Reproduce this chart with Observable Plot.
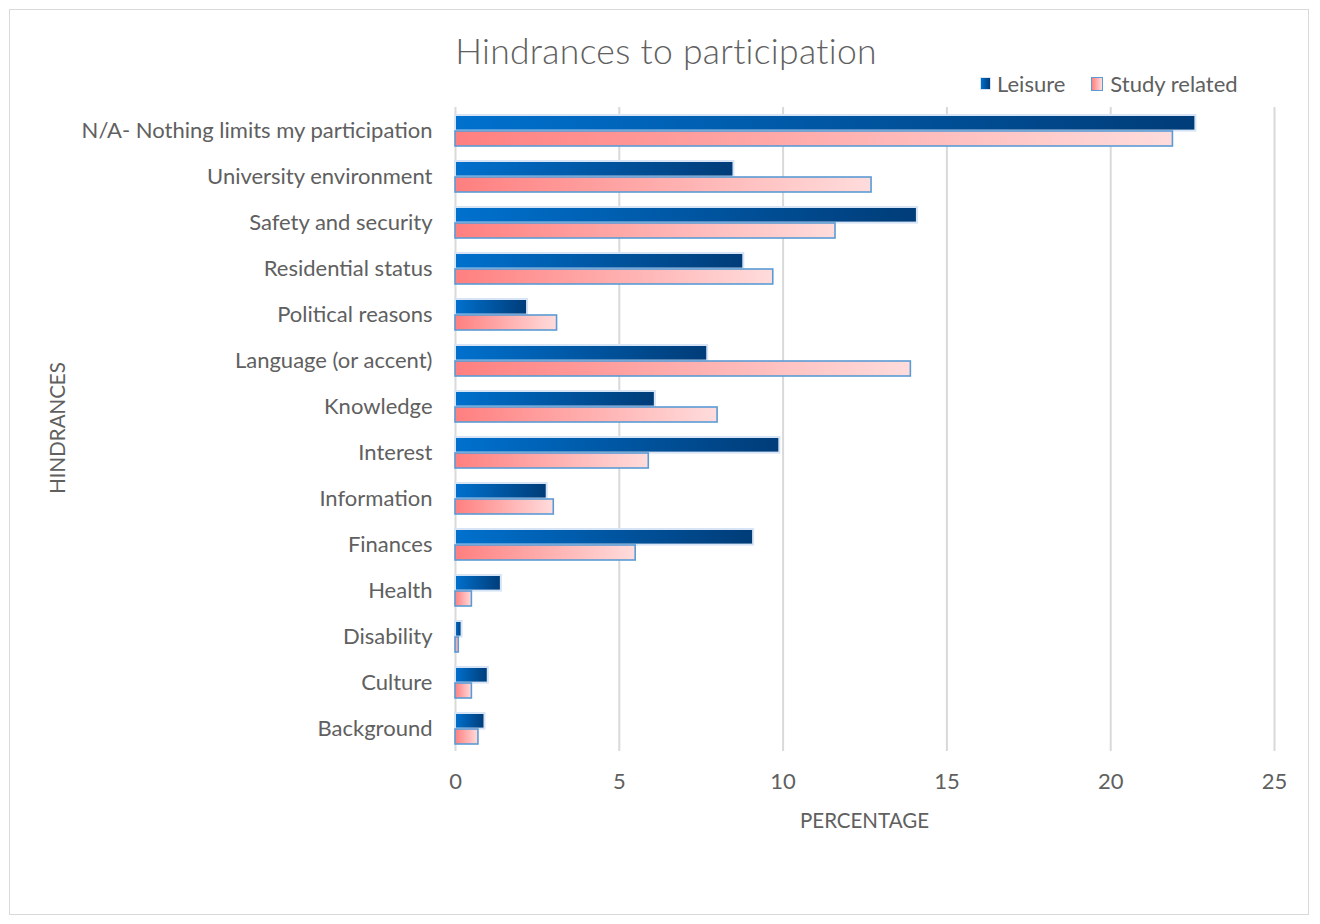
<!DOCTYPE html>
<html>
<head>
<meta charset="utf-8">
<script src="https://cdn.jsdelivr.net/npm/d3@7"></script>
<script src="https://cdn.jsdelivr.net/npm/@observablehq/plot@0.6"></script>
<style>
  body { margin: 0; background: #fff; font-family: Lato, "Open Sans", sans-serif; color: #606060; }
  #frame { position: absolute; left: 9px; top: 9px; width: 1300px; height: 906px; border: 1px solid #d9d9d9; box-sizing: border-box; }
  #chart { position: absolute; left: 0; top: 0; }
  #title { position: absolute; top: 29px; left: 0; width: 1332px; text-align: center; font-size: 35.5px; font-weight: 300; letter-spacing: 0.3px; }
  #legend { position: absolute; top: 70px; left: 981px; font-size: 22px; display: flex; align-items: center; }
  .sw { display: inline-block; width: 9px; height: 11px; margin-right: 7px; }
  #xlabel { position: absolute; top: 808px; left: 455px; width: 819px; text-align: center; font-size: 20.5px; }
  #ylabel { position: absolute; left: 57px; top: 428px; transform: translate(-50%, -50%) rotate(-90deg); font-size: 20.5px; white-space: nowrap; }
</style>
</head>
<body>
<div id="frame"></div>
<div id="chart"></div>
<div id="title">Hindrances to participation</div>
<div id="legend">
  <span class="sw" style="background:linear-gradient(90deg,#0070cc,#003c78);outline:1px solid #d6e4f5;"></span><span>Leisure</span>
  <span style="width:26px;display:inline-block"></span>
  <span class="sw" style="width:10px;height:12px;background:linear-gradient(90deg,#ff8080,#ffdcdc);border:1.5px solid #5b9bd5;"></span><span>Study related</span>
</div>
<div id="xlabel">PERCENTAGE</div>
<div id="ylabel">HINDRANCES</div>
<script>
const categories = [
  "N/A- Nothing limits my participation",
  "University environment",
  "Safety and security",
  "Residential status",
  "Political reasons",
  "Language (or accent)",
  "Knowledge",
  "Interest",
  "Information",
  "Finances",
  "Health",
  "Disability",
  "Culture",
  "Background"
];
const leisure = [22.6, 8.5, 14.1, 8.8, 2.2, 7.7, 6.1, 9.9, 2.8, 9.1, 1.4, 0.2, 1.0, 0.9];
const study   = [21.9, 12.7, 11.6, 9.7, 3.1, 13.9, 8.0, 5.9, 3.0, 5.5, 0.5, 0.1, 0.5, 0.7];
const xTicks = [0, 5, 10, 15, 20, 25];
const seriesNames = ["Leisure", "Study related"];

const rows = categories.map((c, i) => ({cat: c, leisure: leisure[i], study: study[i]}));

const half = 15.4;
const chart = Plot.plot({
  width: 1320,
  height: 880,
  marginLeft: 455,
  marginRight: 46,
  marginTop: 107,
  marginBottom: 129,
  style: {fontFamily: "Lato, 'Open Sans', sans-serif", fontSize: "22px", color: "#606060", background: "transparent", overflow: "visible"},
  x: {domain: [0, 25], ticks: xTicks, tickSize: 0, tickPadding: 22, label: null},
  y: {domain: categories, paddingInner: 0.33, paddingOuter: 0.165, tickSize: 0, tickPadding: 23, label: null},
  marks: [
    Plot.ruleX(xTicks, {stroke: "#d9d9d9", strokeWidth: 2}),
    Plot.barX(rows, {x: "leisure", y: "cat", insetBottom: half, fill: "url(#gLeisure)", stroke: "#d6e4f5", strokeWidth: 2, title: d => `${seriesNames[0]}: ${d.leisure}`}),
    Plot.barX(rows, {x: "study", y: "cat", insetTop: half + 0.6, fill: "url(#gStudy)", stroke: "#5b9bd5", strokeWidth: 1.6, title: d => `${seriesNames[1]}: ${d.study}`})
  ]
});

const svg = d3.select(chart);
const defs = svg.insert("defs", ":first-child");
const g1 = defs.append("linearGradient").attr("id", "gLeisure").attr("x1", 0).attr("x2", 1).attr("y1", 0).attr("y2", 0);
g1.append("stop").attr("offset", "0%").attr("stop-color", "#0071ce");
g1.append("stop").attr("offset", "100%").attr("stop-color", "#003c78");
const g2 = defs.append("linearGradient").attr("id", "gStudy").attr("x1", 0).attr("x2", 1).attr("y1", 0).attr("y2", 0);
g2.append("stop").attr("offset", "0%").attr("stop-color", "#ff7f7f");
g2.append("stop").attr("offset", "100%").attr("stop-color", "#ffdcdc");

document.getElementById("chart").appendChild(chart);
</script>
</body>
</html>
